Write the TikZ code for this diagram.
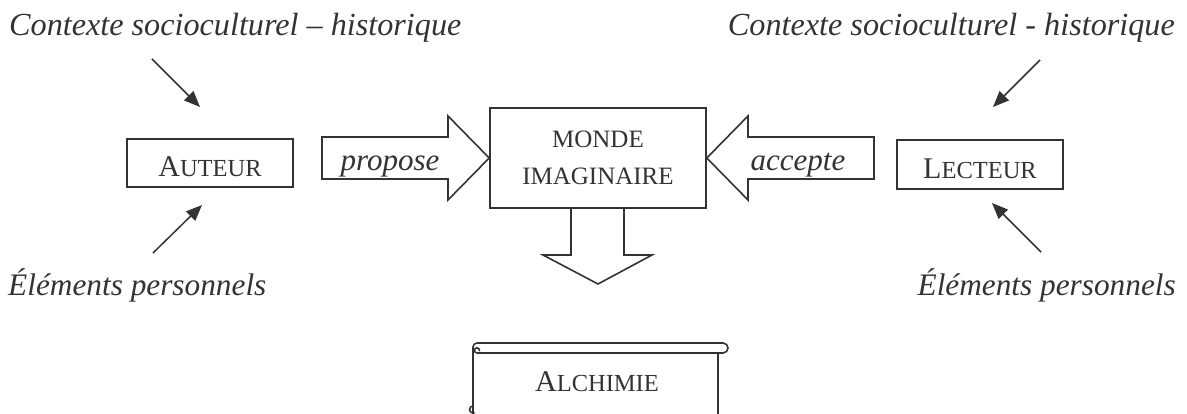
\documentclass[tikz,border=0pt]{standalone}
\usepackage{fontspec}
\setmainfont{Liberation Serif}
\usetikzlibrary{arrows.meta}
\definecolor{ink}{HTML}{333333}
\newcommand{\fakesc}[2]{{\fontsize{30}{30}\selectfont #1}{\fontsize{24.5}{30}\selectfont #2}}
\begin{document}
\begin{tikzpicture}[x=1pt,y=-1pt,
  ctx/.style={font=\fontsize{31}{37}\selectfont\itshape, text=ink, inner sep=0pt},
  ctxbig/.style={ctx, font=\fontsize{32.2}{37}\selectfont\itshape},
  boxnode/.style={draw=ink, line width=1.6pt, fill=white, inner sep=0pt, text=ink},
  blockarrow/.style={draw=ink, line width=1.6pt, line join=miter},
  ptr/.style={draw=ink, line width=1.5pt, -{Triangle[length=16pt,width=13pt]}},
  scrollline/.style={draw=ink, line width=1.6pt}]
\useasboundingbox (0,0) rectangle (1187,414);
% context texts
\node[ctxbig, anchor=base west] (ctxL) at (9,36) {Contexte socioculturel – historique};
\node[ctxbig, anchor=base east] (ctxR) at (1175,36) {Contexte socioculturel - historique};
\node[ctx, font=\fontsize{31.3}{37}\selectfont\itshape, anchor=base west] (persL) at (8,296) {Éléments personnels};
\node[ctx, font=\fontsize{31.3}{37}\selectfont\itshape, anchor=base east] (persR) at (1176,296) {Éléments personnels};
% boxes
\node[boxnode, minimum width=166pt, minimum height=48pt, text height=28pt] (auteur) at (210,163) {\fakesc{A}{UTEUR}};
\node[boxnode, minimum width=166pt, minimum height=49pt, text height=28pt] (lecteur) at (980,164.5) {\fakesc{L}{ECTEUR}};
\node[boxnode, minimum width=216pt, minimum height=100pt, align=center, font=\fontsize{25}{37}\selectfont] (monde) at (598,158) {MONDE\\IMAGINAIRE};
% block arrows
\draw[blockarrow] (monde.west) -- (448,116) -- (448,137) -- (322,137) -- (322,179) -- (448,179) -- (448,200) -- cycle;
\draw[blockarrow] (monde.east) -- (748,116) -- (748,137) -- (874,137) -- (874,179) -- (748,179) -- (748,200) -- cycle;
\draw[blockarrow] (571,208) -- (571,255) -- (543,255) -- (598,284) -- (652,255) -- (624,255) -- (624,208);
\node[ctx, anchor=base] (propose) at (390,171) {propose};
\node[ctx, anchor=base] (accepte) at (798,171) {accepte};
% small arrows
\coordinate (tl0) at (152,59); \coordinate (tl1) at (200,107);
\coordinate (bl0) at (153,253); \coordinate (bl1) at (202,205);
\coordinate (tr0) at (1040,60); \coordinate (tr1) at (993,107);
\coordinate (br0) at (1041,252); \coordinate (br1) at (992,203);
\draw[ptr] (tl0) -- (tl1);
\draw[ptr] (bl0) -- (bl1);
\draw[ptr] (tr0) -- (tr1);
\draw[ptr] (br0) -- (br1);
% scroll
\draw[scrollline] (477,343) -- (723,343) arc[start angle=-90,end angle=90,radius=5] -- (477,353);
\draw[scrollline] (477,343) arc[start angle=-90,end angle=-180,radius=4] -- (473,414);
\draw[scrollline] (477,353) arc[start angle=90,end angle=380,radius=2.6];
\draw[scrollline] (718,353) -- (718,414);
\draw[scrollline] (473,406) arc[start angle=-90,end angle=-300,radius=3.5];
\node[text=ink, anchor=base, inner sep=0pt] (alch) at (597,391) {\fakesc{A}{LCHIMIE}};
\end{tikzpicture}
\end{document}
